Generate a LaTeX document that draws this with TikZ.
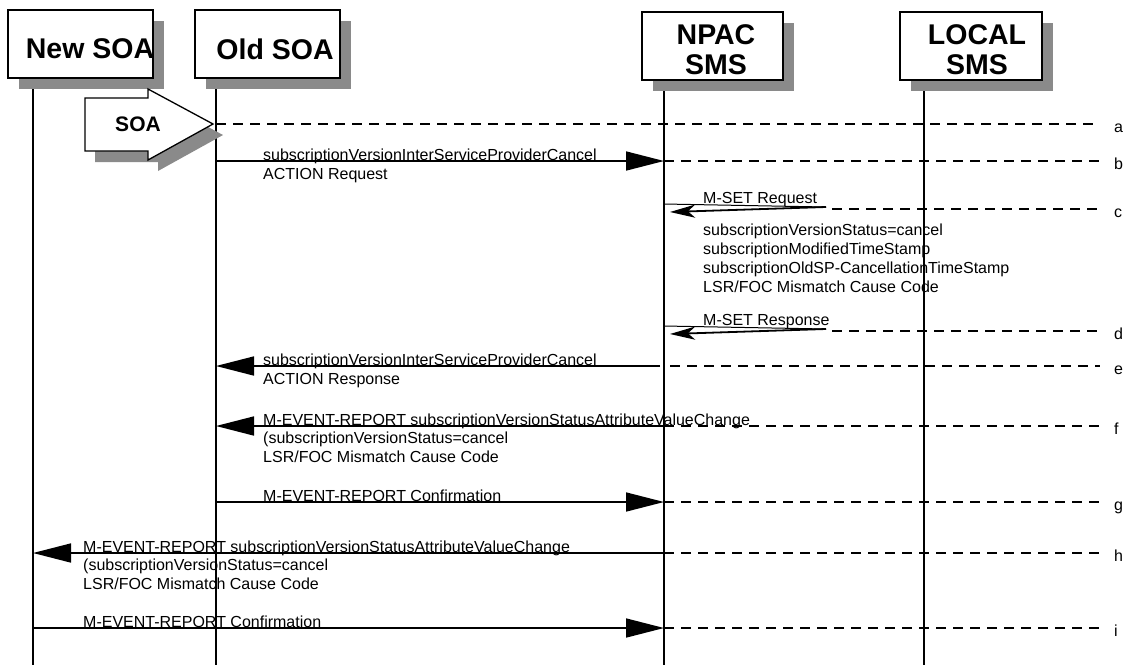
\documentclass[tikz,border=0pt]{standalone}
\usepackage{fontspec}
\setmainfont{Liberation Sans}
\usetikzlibrary{arrows.meta}
\definecolor{shadowgray}{RGB}{138,138,138}
\begin{document}
\begin{tikzpicture}[x=1pt,y=-1pt,
  msgline/.style={line width=1.6pt},
  bighead/.style={-{Triangle[length=38pt,width=19pt]}},
  loophead/.style={-{Stealth[length=25pt,width=13pt,inset=7pt]}},
  dashln/.style={line width=1.3pt,dash pattern=on 10pt off 7pt},
  lifeln/.style={line width=1.6pt},
  boxln/.style={draw=black,line width=1.3pt,fill=white,inner sep=0pt},
  shad/.style={fill=shadowgray},
  txt/.style={font=\fontsize{16}{18.5}\selectfont,inner sep=0pt,anchor=base west},
  hdrtxt/.style={font=\fontsize{28.5}{30}\selectfont\bfseries,inner sep=0pt}
]
\useasboundingbox (0,0) rectangle (1132,665);

% ---------- header boxes ----------
\fill[shad] (19,21) rectangle (164,89);
\node[boxln,minimum width=145pt,minimum height=68pt] (box-new) at (80.5,44) {};
\node[hdrtxt] (t-new) at (90,49) {New SOA};

\fill[shad] (206,21) rectangle (351,89);
\node[boxln,minimum width=145pt,minimum height=68pt] (box-old) at (267.5,44) {};
\node[hdrtxt] (t-old) at (275,49) {Old SOA};

\fill[shad] (653,23) rectangle (794,91);
\node[boxln,minimum width=141pt,minimum height=68pt] (box-npac) at (712.5,46) {};
\node[hdrtxt] (t-npac1) at (716,35) {NPAC};
\node[hdrtxt] (t-npac2) at (716,65) {SMS};

\fill[shad] (911,23) rectangle (1053,91);
\node[boxln,minimum width=142pt,minimum height=68pt] (box-local) at (971,46) {};
\node[hdrtxt] (t-local1) at (977,35) {LOCAL};
\node[hdrtxt] (t-local2) at (977,65) {SMS};

% ---------- lifelines ----------
\coordinate (Lnew) at (33,89);
\coordinate (Lold) at (216,89);
\coordinate (Lnpac) at (664,91);
\coordinate (Llocal) at (924,91);
\coordinate (bot) at (0,665);
\coordinate (dend) at (1100,0);
\draw[lifeln] (Lnew) -- (Lnew |- bot);
\draw[lifeln] (Lold) -- (Lold |- bot);
\draw[lifeln] (Lnpac) -- (Lnpac |- bot);
\draw[lifeln] (Llocal) -- (Llocal |- bot);

% ---------- row coordinates ----------
\coordinate (ra) at (0,124);
\coordinate (rb) at (0,161);
\coordinate (rc) at (0,209);
\coordinate (rd) at (0,331);
\coordinate (re) at (0,366);
\coordinate (rf) at (0,426);
\coordinate (rg) at (0,502);
\coordinate (rh) at (0,553);
\coordinate (ri) at (0,628);

% ---------- SOA block arrow ----------
\fill[shad] (95,109) -- (158,109) -- (158,100) -- (223,135) -- (158,171) -- (158,162) -- (95,162) -- cycle;
\draw[line width=1.3pt,fill=white] (85,98) -- (148,98) -- (148,89) -- (213,124) -- (148,160) -- (148,151) -- (85,151) -- cycle;
\node[font=\fontsize{21}{24}\selectfont\bfseries,inner sep=0pt] (soa) at (138,124) {SOA};

% ---------- row a ----------
\draw[dashln] (Lold |- ra) -- (dend |- ra);

% ---------- row b ----------
\draw[msgline,bighead] (Lold |- rb) -- (Lnpac |- rb);
\draw[dashln] (Lnpac |- rb) -- (dend |- rb);
\node[txt] (b1) at (263,160) {subscriptionVersionInterServiceProviderCancel};
\node[txt] (b2) at (263,179) {ACTION Request};

% ---------- row c (M-SET Request loop) ----------
\coordinate (cturn) at (826,207);
\coordinate (carrow) at (670,212);
\draw[line width=1pt] (Lnpac |- 0,204) -- (cturn);
\draw[line width=1.8pt,loophead] (cturn) -- (carrow);
\draw[dashln] (832,209) -- (dend |- rc);
\node[txt] (c0) at (703,203) {M-SET Request};
\node[txt] (c1) at (703,235) {subscriptionVersionStatus=cancel};
\node[txt] (c2) at (703,254) {subscriptionModifiedTimeStamp};
\node[txt] (c3) at (703,273) {subscriptionOldSP-CancellationTimeStamp};
\node[txt] (c4) at (703,292) {LSR/FOC Mismatch Cause Code};

% ---------- row d (M-SET Response loop) ----------
\coordinate (dturn) at (826,329);
\coordinate (darrow) at (670,334);
\draw[line width=1pt] (Lnpac |- 0,326) -- (dturn);
\draw[line width=1.8pt,loophead] (dturn) -- (darrow);
\draw[dashln] (832,331) -- (dend |- rd);
\node[txt] (d0) at (703,325) {M-SET Response};

% ---------- row e ----------
\coordinate (estart) at (660,366);
\draw[msgline,bighead] (estart) -- (Lold |- re);
\draw[dashln] (670,366) -- (dend |- re);
\node[txt] (e1) at (263,365) {subscriptionVersionInterServiceProviderCancel};
\node[txt] (e2) at (263,384) {ACTION Response};

% ---------- row f ----------
\draw[msgline,bighead] (Lnpac |- rf) -- (Lold |- rf);
\draw[dashln] (Lnpac |- rf) -- (dend |- rf);
\node[txt] (f1) at (263,425) {M-EVENT-REPORT subscriptionVersionStatusAttributeValueChange};
\node[txt] (f2) at (263,443.5) {(subscriptionVersionStatus=cancel};
\node[txt] (f3) at (263,462) {LSR/FOC Mismatch Cause Code};

% ---------- row g ----------
\draw[msgline,bighead] (Lold |- rg) -- (Lnpac |- rg);
\draw[dashln] (Lnpac |- rg) -- (dend |- rg);
\node[txt] (g1) at (263,501) {M-EVENT-REPORT Confirmation};

% ---------- row h ----------
\draw[msgline,bighead] (Lnpac |- rh) -- (Lnew |- rh);
\draw[dashln] (Lnpac |- rh) -- (dend |- rh);
\node[txt] (h1) at (83,552) {M-EVENT-REPORT subscriptionVersionStatusAttributeValueChange};
\node[txt] (h2) at (83,570.5) {(subscriptionVersionStatus=cancel};
\node[txt] (h3) at (83,589) {LSR/FOC Mismatch Cause Code};

% ---------- row i ----------
\draw[msgline,bighead] (Lnew |- ri) -- (Lnpac |- ri);
\draw[dashln] (Lnpac |- ri) -- (dend |- ri);
\node[txt] (i1) at (83,627) {M-EVENT-REPORT Confirmation};

% ---------- row labels ----------
\node[txt] (la) at (1114,132) {a};
\node[txt] (lb) at (1114,169) {b};
\node[txt] (lc) at (1114,217) {c};
\node[txt] (ld) at (1114,339) {d};
\node[txt] (le) at (1114,374) {e};
\node[txt] (lf) at (1114,434) {f};
\node[txt] (lg) at (1114,510) {g};
\node[txt] (lh) at (1114,561) {h};
\node[txt] (li) at (1114,636) {i};
\end{tikzpicture}
\end{document}
